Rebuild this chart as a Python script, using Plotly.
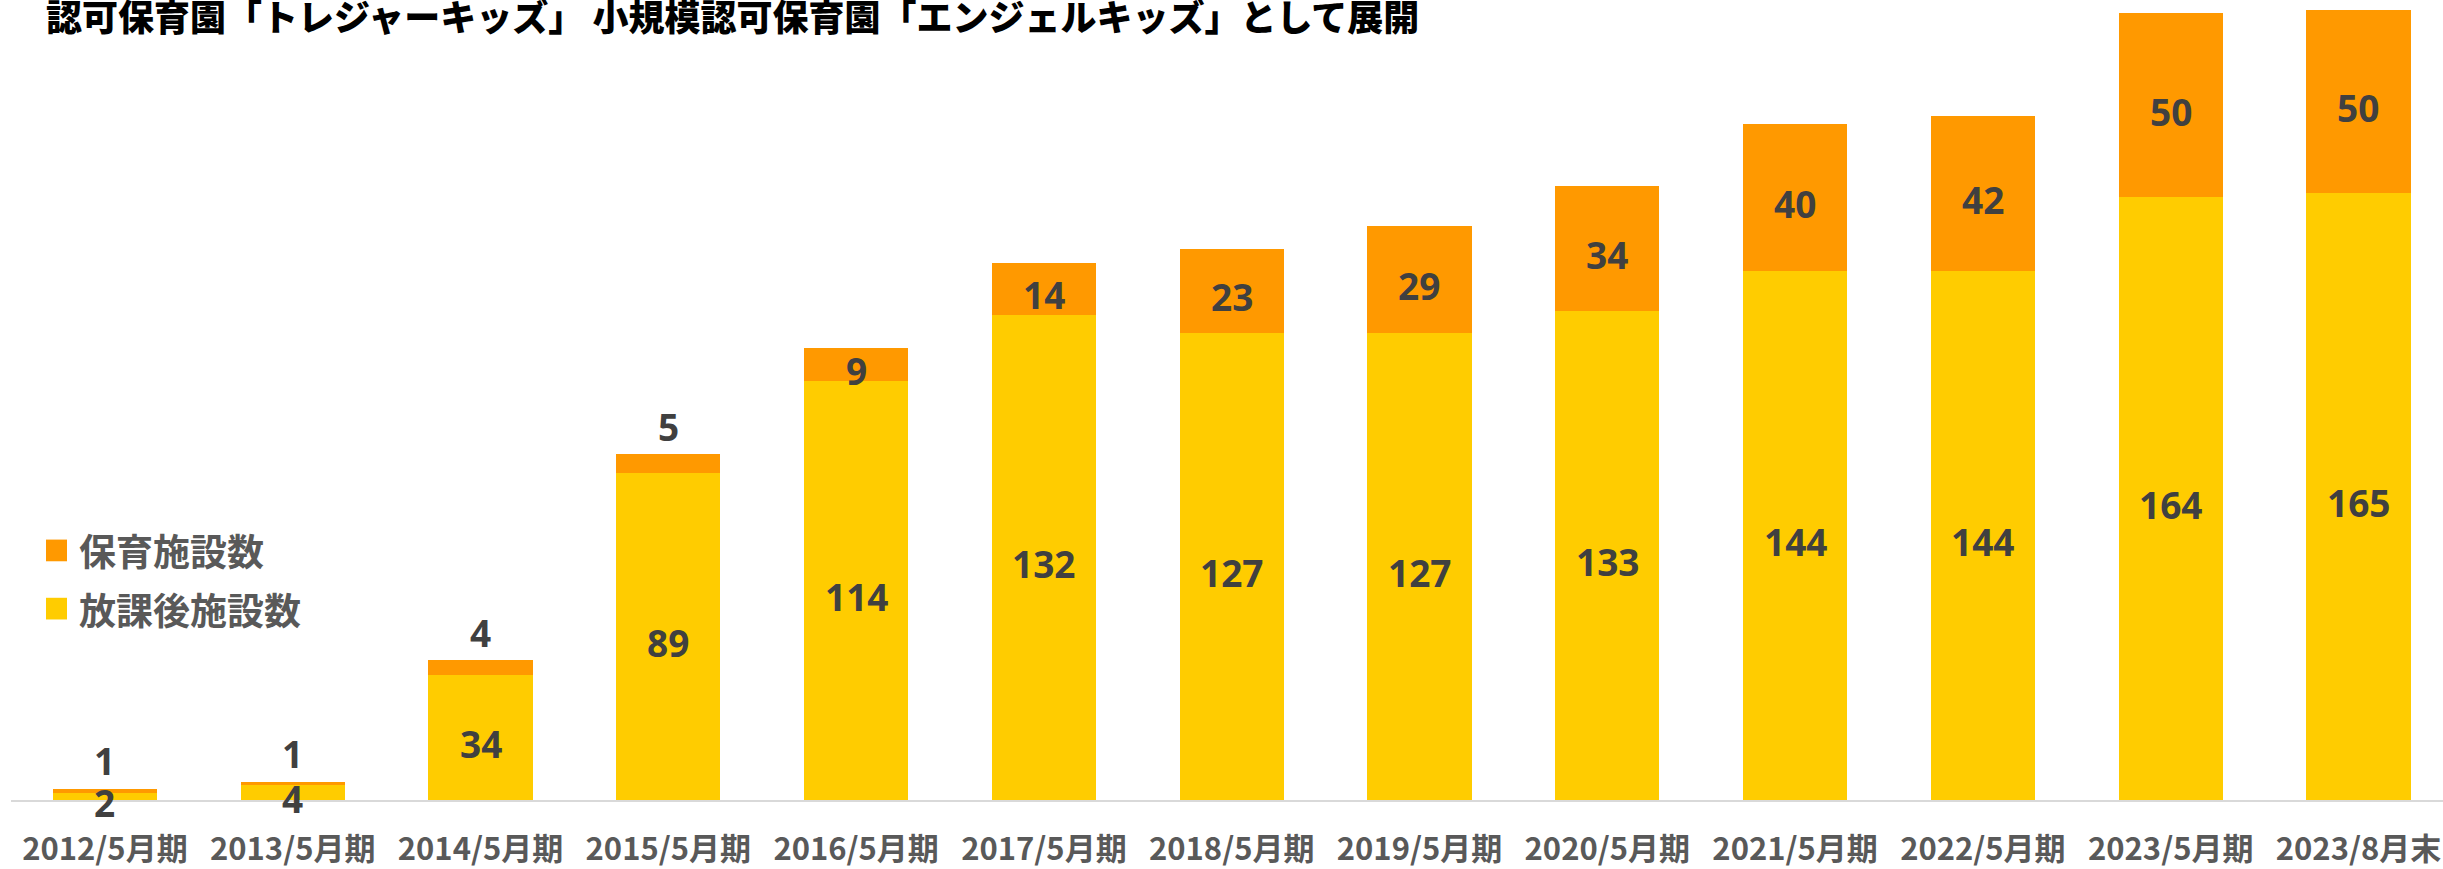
import plotly.graph_objects as go

categories = ["2012/5月期", "2013/5月期", "2014/5月期", "2015/5月期", "2016/5月期",
              "2017/5月期", "2018/5月期", "2019/5月期", "2020/5月期", "2021/5月期",
              "2022/5月期", "2023/5月期", "2023/8月末"]
afterschool = [2, 4, 34, 89, 114, 132, 127, 127, 133, 144, 144, 164, 165]
nursery = [1, 1, 4, 5, 9, 14, 23, 29, 34, 40, 42, 50, 50]
series_names = ["保育施設数", "放課後施設数"]
title_text = "認可保育園「トレジャーキッズ」 小規模認可保育園「エンジェルキッズ」として展開"

YELLOW = "#FFCC00"
ORANGE = "#FF9900"
LABEL = "#404040"
GRAY = "#595959"

W, H = 2443, 869
ML, MR, MT, MB = 11, 0, 0, 58
PW, PH = W - ML - MR, H - MT - MB

fig = go.Figure()
fig.add_trace(go.Bar(x=categories, y=afterschool, name=series_names[1],
                     marker=dict(color=YELLOW, line=dict(width=0)), showlegend=False))
fig.add_trace(go.Bar(x=categories, y=nursery, name=series_names[0],
                     marker=dict(color=ORANGE, line=dict(width=0)), showlegend=False))

annotations = []
lab_font = dict(family="Open Sans, Noto Sans CJK JP", size=37, color=LABEL)
for i, c in enumerate(categories):
    a, n = afterschool[i], nursery[i]
    annotations.append(dict(x=c, y=a / 2, xref="x", yref="y", text=f"<b>{a}</b>",
                            showarrow=False, font=lab_font, yanchor="middle", yshift=-6))
    if n * 3.727 < 30:
        annotations.append(dict(x=c, y=a + n, xref="x", yref="y", text=f"<b>{n}</b>",
                                showarrow=False, font=lab_font, yanchor="middle", yshift=28))
    else:
        annotations.append(dict(x=c, y=a + n / 2, xref="x", yref="y", text=f"<b>{n}</b>",
                                showarrow=False, font=lab_font, yanchor="middle", yshift=-6))

def px(xp):
    return (xp - ML) / PW

def py(yp):
    return (H - MB - yp) / PH

# title
annotations.append(dict(x=px(44), y=py(15), xref="paper", yref="paper", xanchor="left",
                        yanchor="middle", text=title_text, showarrow=False,
                        font=dict(family="Noto Sans CJK JP", size=36, color="#000000", weight=900)))

# custom legend
shapes = []
legend_rows = [(series_names[0], ORANGE, 558), (series_names[1], YELLOW, 617)]
for name, col, yc in legend_rows:
    shapes.append(dict(type="rect", xref="paper", yref="paper",
                       x0=px(46), x1=px(67), y0=py(yc + 11), y1=py(yc - 11),
                       fillcolor=col, line=dict(width=0)))
    annotations.append(dict(x=px(77), y=py(yc), xref="paper", yref="paper", xanchor="left",
                            yanchor="middle", text=f"<b>{name}</b>", showarrow=False,
                            font=dict(family="Noto Sans CJK JP", size=37, color=GRAY)))

fig.update_layout(
    width=W, height=H,
    margin=dict(l=ML, r=MR, t=MT, b=MB, pad=0),
    barmode="stack", bargap=0.446,
    plot_bgcolor="white", paper_bgcolor="white",
    annotations=annotations, shapes=shapes,
    xaxis=dict(range=[-0.5, 12.45], showgrid=False, showline=True, linecolor="#D9D9D9",
               linewidth=2, ticks="", ticklabelstandoff=21,
               tickfont=dict(family="Noto Sans CJK JP", size=31, color=GRAY, weight="bold"),
               fixedrange=True),
    yaxis=dict(range=[0, 217.6], showgrid=False, showticklabels=False, zeroline=False,
               showline=False, ticks="", fixedrange=True),
)

fig.write_html("out.html", config={"displayModeBar": False},
               post_script="document.body.style.margin='0';document.body.style.overflow='hidden';")
